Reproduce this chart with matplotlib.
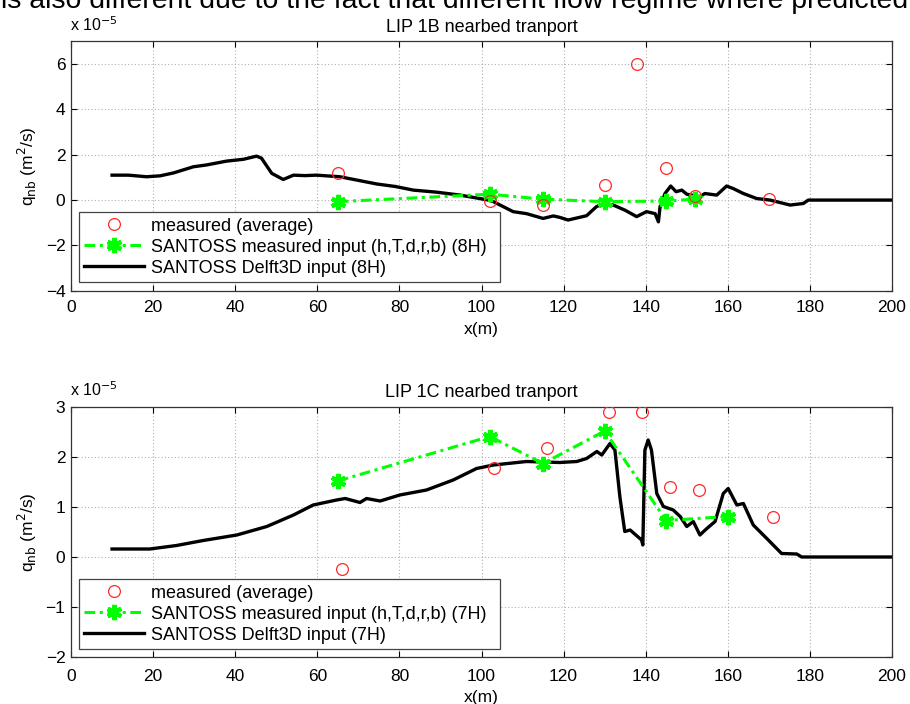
import matplotlib
matplotlib.use("Agg")
import matplotlib.pyplot as plt
from matplotlib.lines import Line2D

# ---------------- data (values in units of 1e-5 m^2/s) ----------------
# LIP 1B
meas_1b_x = [65, 102, 115, 130, 138, 145, 152, 170]
meas_1b_y = [1.18, -0.05, -0.22, 0.66, 6.0, 1.43, 0.19, 0.03]
sant_1b_x = [65, 102, 115, 130, 145, 152]
sant_1b_y = [-0.07, 0.26, 0.04, -0.07, -0.04, 0.04]
delft_1b_x = [10, 14, 18.4, 21.7, 25, 29.8, 33, 37.9, 42, 45.2, 46.4, 48.9, 51.7, 54.2,
              57, 59.8, 65.5, 70, 74.5, 79, 83.4, 89, 94.8, 101.7, 102.9, 107.7, 111,
              115, 117.5, 119, 121.1, 125.6, 128, 129.7, 132.1, 135, 137.8, 140.2,
              142.3, 143.1, 143.5, 144.7, 146.1, 147.4, 148.8, 150, 153.2, 154.4,
              157.3, 159.7, 161.3, 163.8, 167, 170.3, 175.2, 178.4, 179.6, 200]
delft_1b_y = [1.1, 1.1, 1.03, 1.07, 1.2, 1.47, 1.55, 1.72, 1.8, 1.94, 1.85, 1.18, 0.91,
              1.1, 1.08, 1.1, 1.03, 0.87, 0.71, 0.6, 0.44, 0.35, 0.22, 0.0, -0.07,
              -0.51, -0.6, -0.81, -0.7, -0.76, -0.88, -0.69, -0.29, -0.15, -0.22,
              -0.45, -0.73, -0.51, -0.6, -0.96, -0.29, 0.29, 0.62, 0.37, 0.44, 0.26,
              0.15, 0.29, 0.22, 0.62, 0.51, 0.29, 0.07, 0.0, -0.22, -0.15, 0.0, 0.0]

# LIP 1C
meas_1c_x = [66, 103, 116, 131, 139, 146, 153, 171]
meas_1c_y = [-0.24, 1.79, 2.19, 2.91, 2.91, 1.41, 1.34, 0.81]
sant_1c_x = [65, 102, 115, 130, 145, 160]
sant_1c_y = [1.52, 2.41, 1.87, 2.52, 0.73, 0.81]
delft_1c_x = [10, 19.2, 25.7, 32.2, 40.4, 47.7, 54.2, 59, 64.7, 66.8, 70.4, 72, 75.3,
              80.1, 86.6, 93.1, 98.8, 102.9, 111, 119.1, 123.2, 125.6, 128.1, 129.3,
              131.3, 132.5, 133.7, 134.9, 136.2, 139, 139.3, 139.8, 140.6, 141.4,
              142.7, 144.3, 146.7, 148.4, 150, 151.6, 153.2, 154.9, 156.9, 158.9,
              160.1, 162.2, 163.8, 166.2, 169.5, 173.1, 176.8, 178, 200]
delft_1c_y = [0.16, 0.16, 0.23, 0.33, 0.44, 0.61, 0.84, 1.04, 1.14, 1.17, 1.09, 1.17,
              1.12, 1.24, 1.34, 1.54, 1.77, 1.84, 1.91, 1.89, 1.91, 1.97, 2.11, 2.04,
              2.27, 2.14, 1.21, 0.51, 0.54, 0.34, 0.24, 2.14, 2.34, 2.14,
              1.27, 1.01, 0.94, 0.81, 0.61, 0.71, 0.44, 0.57, 0.71, 1.27,
              1.37, 1.04, 1.07, 0.64, 0.37, 0.07, 0.06, 0.0, 0.0]

titles = ["LIP 1B nearbed tranport", "LIP 1C nearbed tranport"]
leg_labels_1b = ["measured (average)", "SANTOSS measured input (h,T,d,r,b) (8H)",
                 "SANTOSS Delft3D input (8H)"]
leg_labels_1c = ["measured (average)", "SANTOSS measured input (h,T,d,r,b) (7H)",
                 "SANTOSS Delft3D input (7H)"]
yticks_1b = [-4, -2, 0, 2, 4, 6]
yticks_1c = [-2, -1, 0, 1, 2, 3]
xticks = [0, 20, 40, 60, 80, 100, 120, 140, 160, 180, 200]

plt.rcParams['font.family'] = ['Liberation Sans', 'DejaVu Sans']

W, H = 910, 704
fig = plt.figure(figsize=(W / 100, H / 100), dpi=100)

fig.text(1 / W, 1 - 7.5 / H,
         "is also different due to the fact that different flow regime where predicted",
         fontsize=20.4, ha='left', va='baseline')

green = '#00ff00'
red = '#ff2a2a'
FS = 12.5
dash = (0, (3.5, 1.5, 1, 1.5))


def panel(rect, mx, my, sx, sy, dx, dy, ylim, yticks, title, labels, leg_rect, xpad):
    ax = fig.add_axes(rect)
    ax.plot(dx, dy, color='black', lw=2.4, zorder=3)
    ax.plot(sx, sy, color=green, lw=2.2, ls=dash, marker=(6, 2, 0),
            ms=11, mew=3.0, mec=green, mfc=green, zorder=4)
    ax.plot(mx, my, ls='none', marker='o', ms=8.5, mfc='none', mec=red, mew=0.9,
            zorder=5)
    ax.set_xlim(0, 200)
    ax.set_ylim(*ylim)
    ax.set_xticks(xticks)
    ax.set_yticks(yticks)
    ax.tick_params(direction='in', top=True, right=True, labelsize=FS, length=4,
                   width=0.8)
    ax.tick_params(axis='x', pad=xpad)
    ax.tick_params(axis='y', pad=4)
    ax.grid(True, ls=(0, (1, 2)), color='#b0b0b0', lw=0.8)
    for s in ax.spines.values():
        s.set_linewidth(0.9)
        s.set_color('#333333')
    ax.set_xlabel('x(m)', fontsize=FS, labelpad=4.5)
    ax.set_ylabel(r'q$_{\mathrm{nb}}$ (m$^2$/s)', fontsize=FS, labelpad=5)
    ax.set_title(title, fontsize=13, pad=7)
    ax.text(-0.001, 1.03, r'x 10$^{-5}$', transform=ax.transAxes, fontsize=11.5,
            ha='left', va='bottom')
    handles = [
        Line2D([], [], ls='none', marker='o', ms=8.5, mfc='none', mec=red, mew=0.9),
        Line2D([], [], color=green, lw=2.2, ls=dash,
               marker=(6, 2, 0), ms=11, mew=3.0, mec=green),
        Line2D([], [], color='black', lw=2.4),
    ]
    leg = ax.legend(handles, labels, loc='lower left', bbox_to_anchor=leg_rect,
                    mode='expand', fontsize=13, frameon=True, fancybox=False,
                    framealpha=1, edgecolor='#444444', borderpad=0.3,
                    labelspacing=0.22, handlelength=3.3, handletextpad=0.4,
                    borderaxespad=0)
    leg.get_frame().set_linewidth(0.9)
    return ax


def axrect(l, t, r, b):
    return [l / W, 1 - b / H, (r - l) / W, (b - t) / H]


r1 = axrect(71, 41.5, 892, 290.7)
r2 = axrect(71, 407, 892, 657)


def legrect(ar, l, t, r, b):
    ax_l, ax_b, ax_w, ax_h = ar
    fl = (l / W - ax_l) / ax_w
    fr = (r / W - ax_l) / ax_w
    fb = ((1 - b / H) - ax_b) / ax_h
    ft = ((1 - t / H) - ax_b) / ax_h
    return (fl, fb, fr - fl, ft - fb)


panel(r1, meas_1b_x, meas_1b_y, sant_1b_x, sant_1b_y, delft_1b_x, delft_1b_y,
      (-4, 7), yticks_1b, titles[0], leg_labels_1b, legrect(r1, 79, 208, 500, 282), 7)
panel(r2, meas_1c_x, meas_1c_y, sant_1c_x, sant_1c_y, delft_1c_x, delft_1c_y,
      (-2, 3), yticks_1c, titles[1], leg_labels_1c, legrect(r2, 79, 575, 500, 649), 8.5)

fig.savefig('out.png', dpi=100)
